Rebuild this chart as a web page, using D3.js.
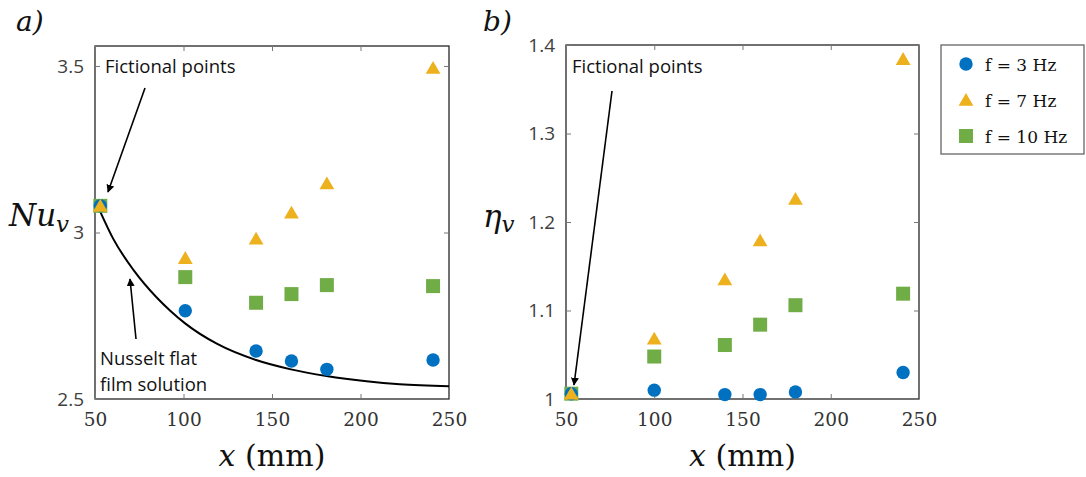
<!DOCTYPE html>
<html>
<head>
<meta charset="utf-8">
<script src="https://cdn.jsdelivr.net/npm/d3@7"></script>
<style>
  body { margin: 0; background: #fff; }
  svg { display: block; }
</style>
</head>
<body>
<svg id="chart" width="1086" height="477"></svg>
<script>
// values
var xA = [53, 101, 141, 161, 181, 241]
var nu3 = [3.08, 2.765, 2.644, 2.614, 2.589, 2.617]
var nu7 = [3.08, 2.923, 2.981, 3.059, 3.147, 3.494]
var nu10 = [3.08, 2.866, 2.789, 2.815, 2.842, 2.839]

var xB = [53, 100, 140, 160, 180, 241]
var eta3 = [1.006, 1.010, 1.005, 1.005, 1.008, 1.030]
var eta7 = [1.006, 1.068, 1.135, 1.179, 1.226, 1.384]
var eta10 = [1.006, 1.048, 1.061, 1.084, 1.106, 1.119]

// Nusselt flat film solution (panel a)
var nusseltX = [53, 60.4, 71.8, 85, 92.5, 100.9, 118.8, 141, 160.7, 180.8, 203.4, 222.2, 250]
var nusseltY = [3.062, 2.980, 2.887, 2.804, 2.765, 2.727, 2.666, 2.617, 2.589, 2.569, 2.553, 2.544, 2.538]

var xTicks = [50, 100, 150, 200, 250]
var yTicksA = [2.5, 3, 3.5]
var yTicksB = [1, 1.1, 1.2, 1.3, 1.4]
var seriesNames = ["f = 3 Hz", "f = 7 Hz", "f = 10 Hz"]

var colBlue = "#0070C0", colOrange = "#EEB11E", colGreen = "#70AD47"
var serif = "'DejaVu Serif', serif"
var sans = "'Open Sans', 'Noto Sans', sans-serif"

var svg = d3.select("#chart")

var defs = svg.append("defs")
defs.append("marker")
    .attr("id", "head")
    .attr("viewBox", "0 0 10 10")
    .attr("refX", 9).attr("refY", 5)
    .attr("markerWidth", 8).attr("markerHeight", 8)
    .attr("markerUnits", "userSpaceOnUse")
    .attr("orient", "auto")
  .append("path")
    .attr("d", "M0,0 L10,5 L0,10 Z")
    .attr("fill", "#000")

var triangle = d3.symbol().type(d3.symbolTriangle).size(95)

function panel(box, xdom, ydom, yTicks, tickFmt) {
    var x = d3.scaleLinear().domain(xdom).range([box.left, box.right])
    var y = d3.scaleLinear().domain(ydom).range([box.bottom, box.top])
    var g = svg.append("g")

    // frame
    g.append("rect")
        .attr("x", box.left).attr("y", box.top)
        .attr("width", box.right - box.left).attr("height", box.bottom - box.top)
        .attr("fill", "none").attr("stroke", "#262626").attr("stroke-width", 1.3)

    // inward ticks on all four sides
    g.append("g").attr("transform", "translate(0," + box.bottom + ")")
        .call(d3.axisBottom(x).tickValues(xTicks).tickSizeInner(-5).tickSizeOuter(0).tickPadding(14))
        .call(s => s.select(".domain").remove())
        .call(s => s.selectAll("line").attr("stroke", "#777"))
        .call(s => s.selectAll("text").attr("font-family", serif).attr("font-size", 18.5).attr("fill", "#333"))
    g.append("g").attr("transform", "translate(0," + box.top + ")")
        .call(d3.axisTop(x).tickValues(xTicks).tickSizeInner(-5).tickSizeOuter(0).tickFormat(""))
        .call(s => s.select(".domain").remove())
        .call(s => s.selectAll("line").attr("stroke", "#777"))
    g.append("g").attr("transform", "translate(" + box.left + ",0)")
        .call(d3.axisLeft(y).tickValues(yTicks).tickSizeInner(-5).tickSizeOuter(0).tickPadding(11).tickFormat(tickFmt))
        .call(s => s.select(".domain").remove())
        .call(s => s.selectAll("line").attr("stroke", "#777"))
        .call(s => s.selectAll("text").attr("font-family", sans).attr("font-size", 19).attr("fill", "#404040"))
    g.append("g").attr("transform", "translate(" + box.right + ",0)")
        .call(d3.axisRight(y).tickValues(yTicks).tickSizeInner(-5).tickSizeOuter(0).tickFormat(""))
        .call(s => s.select(".domain").remove())
        .call(s => s.selectAll("line").attr("stroke", "#777"))

    // x label
    var lab = g.append("text")
        .attr("x", (box.left + box.right) / 2).attr("y", 466)
        .attr("text-anchor", "middle")
        .attr("font-family", serif).attr("font-size", 30).attr("fill", "#111")
    lab.append("tspan").attr("font-style", "italic").text("x")
    lab.append("tspan").text(" (mm)")

    return {g: g, x: x, y: y}
}

function drawPoints(p, xs, s3, s7, s10) {
    p.g.selectAll(".sq").data(s10).enter().append("rect")
        .attr("x", (d, i) => p.x(xs[i]) - 7).attr("y", d => p.y(d) - 7)
        .attr("width", 14).attr("height", 14).attr("fill", colGreen)
    p.g.selectAll(".ci").data(s3).enter().append("circle")
        .attr("cx", (d, i) => p.x(xs[i])).attr("cy", d => p.y(d))
        .attr("r", 6.7).attr("fill", colBlue)
    p.g.selectAll(".tr").data(s7).enter().append("path")
        .attr("d", triangle)
        .attr("transform", (d, i) => "translate(" + p.x(xs[i]) + "," + (p.y(d) + 1.5) + ")")
        .attr("fill", colOrange)
}

function arrow(x1, y1, x2, y2) {
    svg.append("line")
        .attr("x1", x1).attr("y1", y1).attr("x2", x2).attr("y2", y2)
        .attr("stroke", "#000").attr("stroke-width", 1.6)
        .attr("marker-end", "url(#head)")
}

function note(x, y, lines) {
    var t = svg.append("text")
        .attr("font-family", sans).attr("font-size", 18.5).attr("fill", "#111")
    lines.forEach(function(l, i) {
        t.append("tspan").attr("x", x).attr("y", y + i * 26).text(l)
    })
}

// ---- panel a
var pa = panel({left: 95, right: 449, top: 46, bottom: 399}, [50, 250], [2.5, 3.56], yTicksA, d3.format(""))

var curve = d3.line()
    .x((d, i) => pa.x(nusseltX[i]))
    .y(d => pa.y(d))
    .curve(d3.curveMonotoneX)
pa.g.append("path")
    .attr("d", curve(nusseltY))
    .attr("fill", "none").attr("stroke", "#000").attr("stroke-width", 2)

drawPoints(pa, xA, nu3, nu7, nu10)

// ---- panel b
var pb = panel({left: 566, right: 919, top: 45, bottom: 399}, [50, 250], [1, 1.4], yTicksB, d3.format(""))
drawPoints(pb, xB, eta3, eta7, eta10)

// y labels and panel tags
var nu = svg.append("text").attr("x", 9).attr("y", 226)
    .attr("font-family", serif).attr("font-size", 31).attr("font-style", "italic").attr("fill", "#111")
nu.append("tspan").text("Nu")
nu.append("tspan").attr("font-size", 23).attr("dy", 6).text("v")

var eta = svg.append("text").attr("x", 483).attr("y", 227)
    .attr("font-family", serif).attr("font-size", 31).attr("font-style", "italic").attr("fill", "#111")
eta.append("tspan").text("η")
eta.append("tspan").attr("font-size", 23).attr("dy", 5).text("v")

svg.append("text").attr("x", 16).attr("y", 31)
    .attr("font-family", serif).attr("font-size", 28).attr("font-style", "italic").attr("fill", "#111").text("a)")
svg.append("text").attr("x", 483).attr("y", 31)
    .attr("font-family", serif).attr("font-size", 28).attr("font-style", "italic").attr("fill", "#111").text("b)")

// annotations
note(105, 73, ["Fictional points"])
arrow(145, 88, 108, 192)
note(100, 365, ["Nusselt flat", "film solution"])
arrow(136, 339, 130, 279)
note(572, 73, ["Fictional points"])
arrow(612, 91, 574, 385)

// legend
var lg = svg.append("g")
lg.append("rect").attr("x", 941).attr("y", 45).attr("width", 143).attr("height", 109)
    .attr("fill", "#fff").attr("stroke", "#666").attr("stroke-width", 1.3)
var lgY = [64, 100, 136]
lg.append("circle").attr("cx", 966).attr("cy", lgY[0]).attr("r", 6.7).attr("fill", colBlue)
lg.append("path").attr("d", triangle).attr("transform", "translate(966," + (lgY[1] + 1.5) + ")").attr("fill", colOrange)
lg.append("rect").attr("x", 959).attr("y", lgY[2] - 7).attr("width", 14).attr("height", 14).attr("fill", colGreen)
lg.selectAll(".lt").data(seriesNames).enter().append("text")
    .attr("x", 985).attr("y", (d, i) => lgY[i] + 7)
    .attr("font-family", serif).attr("font-size", 17).attr("fill", "#111")
    .text(d => d)
</script>
</body>
</html>
